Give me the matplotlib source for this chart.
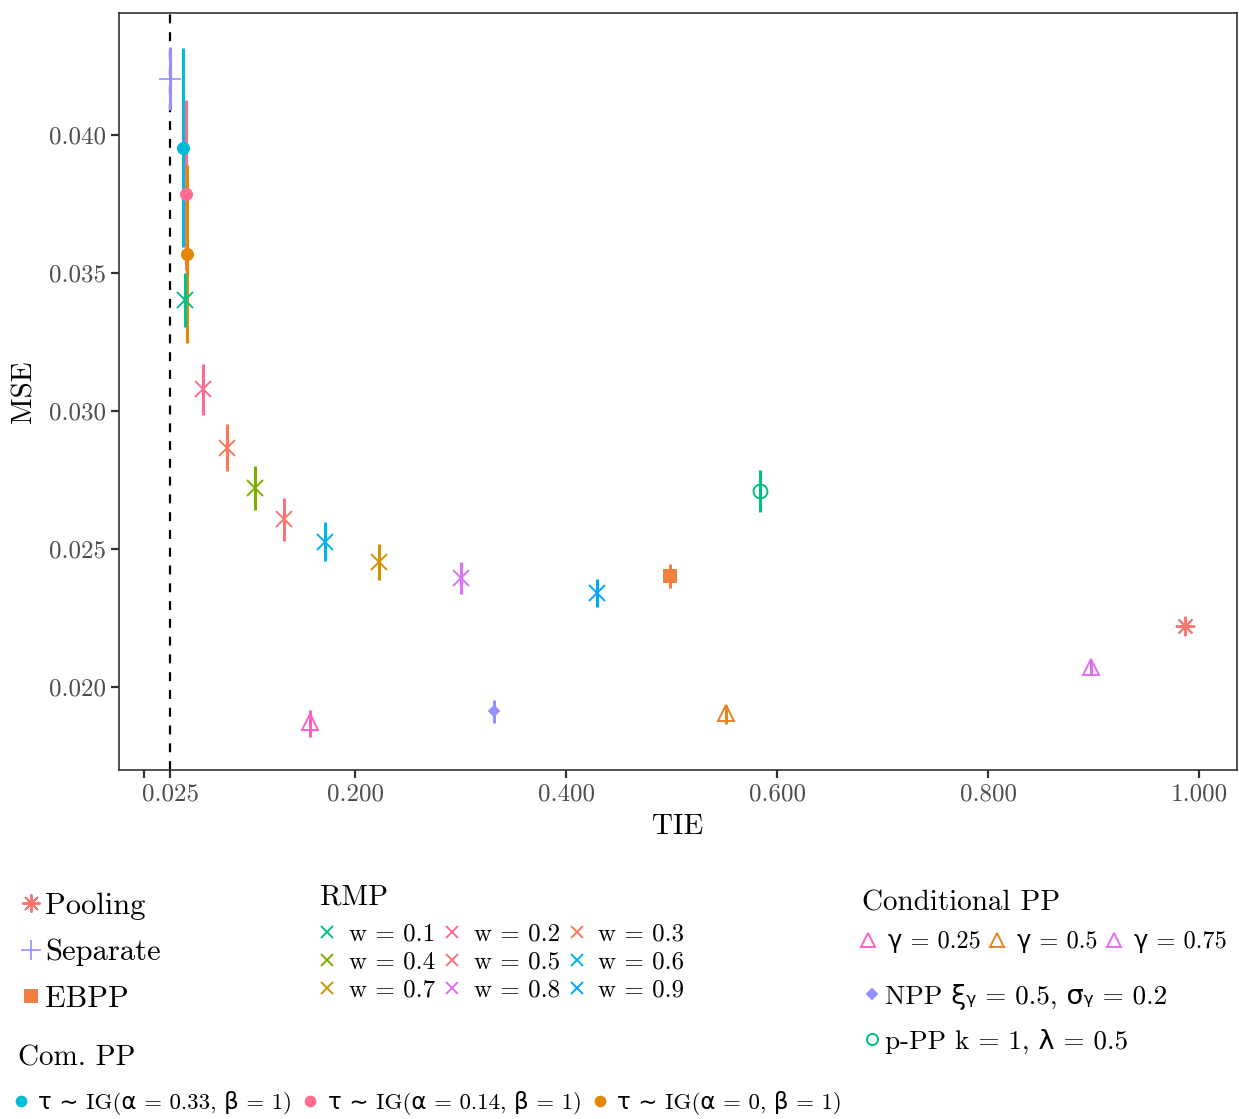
import numpy as np
import matplotlib
matplotlib.use("Agg")
import matplotlib.pyplot as plt
from matplotlib.lines import Line2D

plt.rcParams['font.family'] = ['cmr10', 'DejaVu Sans']
plt.rcParams['axes.formatter.use_mathtext'] = True

# ---- data ----
# single methods: TIE, MSE, lower, upper
pool_tie, pool_mse, pool_lo, pool_hi = 0.987, 0.02221, 0.02213, 0.02229
sep_tie, sep_mse, sep_lo, sep_hi = 0.0246, 0.04203, 0.04091, 0.04319
ebpp_tie, ebpp_mse, ebpp_lo, ebpp_hi = 0.4986, 0.02402, 0.02359, 0.02446
npp_tie, npp_mse, npp_lo, npp_hi = 0.3318, 0.01913, 0.01870, 0.01953
ppp_tie, ppp_mse, ppp_lo, ppp_hi = 0.5839, 0.02710, 0.02634, 0.02786

# RMP, w = 0.1 ... 0.9
rmp_labels = ["w = 0.1", "w = 0.2", "w = 0.3", "w = 0.4", "w = 0.5",
              "w = 0.6", "w = 0.7", "w = 0.8", "w = 0.9"]
rmp_tie = [0.0389, 0.0559, 0.0787, 0.1050, 0.1327, 0.1716, 0.2227, 0.3005, 0.4294]
rmp_mse = [0.03402, 0.03080, 0.02866, 0.02721, 0.02609, 0.02525, 0.02453, 0.02395, 0.02341]
rmp_lo = [0.03304, 0.02986, 0.02783, 0.02641, 0.02529, 0.02457, 0.02388, 0.02337, 0.02290]
rmp_hi = [0.03500, 0.03170, 0.02953, 0.02801, 0.02685, 0.02598, 0.02518, 0.02453, 0.02391]
rmp_colors = ["#00C08B", "#FF6C91", "#FA7B5C", "#7CAE00", "#F8766D",
              "#00B4EF", "#D39200", "#DC71FA", "#00A9FF"]

# Conditional PP, gamma = 0.25, 0.5, 0.75
cpp_labels = ["γ = 0.25", "γ = 0.5", "γ = 0.75"]
cpp_tie = [0.1573, 0.5517, 0.8976]
cpp_mse = [0.01873, 0.01906, 0.02072]
cpp_lo = [0.01819, 0.01866, 0.02043]
cpp_hi = [0.01917, 0.01935, 0.02097]
cpp_colors = ["#FF61C3", "#E88526", "#E36EF6"]

# Commensurate PP
com_labels = ["τ ∼ IG(α = 0.33, β = 1)", "τ ∼ IG(α = 0.14, β = 1)", "τ ∼ IG(α = 0, β = 1)"]
com_tie = [0.0370, 0.0398, 0.0408]
com_mse = [0.03953, 0.03786, 0.03569]
com_lo = [0.03594, 0.03511, 0.03246]
com_hi = [0.04315, 0.04127, 0.03891]
com_colors = ["#00BCD8", "#FF6C91", "#E58700"]

x_ticks = [0.0, 0.025, 0.2, 0.4, 0.6, 0.8, 1.0]
x_ticklabels = ["", "0.025", "0.200", "0.400", "0.600", "0.800", "1.000"]
y_ticks = [0.020, 0.025, 0.030, 0.035, 0.040]
y_ticklabels = ["0.020", "0.025", "0.030", "0.035", "0.040"]

W, H = 1239, 1119
fig = plt.figure(figsize=(W / 100, H / 100), dpi=100)
ax = fig.add_axes([119 / W, 1 - 770 / H, 1118 / W, 757 / H])


def draw(x, y, lo, hi, color, marker, ms=11, mew=1.4, fill=True):
    ax.vlines(x, lo, hi, color=color, lw=2.2, zorder=2)
    ax.plot([x], [y], marker=marker, color=color, ms=ms, mew=mew, ls="none",
            mfc=color if fill else "none", zorder=3)


ax.axvline(0.025, color="black", ls=(0, (4, 4)), lw=1.6, zorder=1)

draw(sep_tie, sep_mse, sep_lo, sep_hi, "#9590FF", "+", ms=16, mew=1.2)
for i in range(3):
    draw(com_tie[i], com_mse[i], com_lo[i], com_hi[i], com_colors[i], "o", ms=8)
for i in range(9):
    draw(rmp_tie[i], rmp_mse[i], rmp_lo[i], rmp_hi[i], rmp_colors[i], "x", ms=12, mew=1.4)
draw(ebpp_tie, ebpp_mse, ebpp_lo, ebpp_hi, "#EE7F3F", "s", ms=8)
draw(ppp_tie, ppp_mse, ppp_lo, ppp_hi, "#00C07B", "o", ms=10, mew=1.4, fill=False)
draw(npp_tie, npp_mse, npp_lo, npp_hi, "#9590FF", "D", ms=5)
for i in range(3):
    draw(cpp_tie[i], cpp_mse[i], cpp_lo[i], cpp_hi[i], cpp_colors[i], "^", ms=12, mew=1.4, fill=False)
draw(pool_tie, pool_mse, pool_lo, pool_hi, "#F8766D", (8, 2, 0), ms=14, mew=1.4)

ax.set_xlim(-0.0237, 1.036)
ax.set_ylim(0.016993, 0.04442)
ax.set_xticks(x_ticks)
ax.set_xticklabels(x_ticklabels)
ax.set_yticks(y_ticks)
ax.set_yticklabels(y_ticklabels)
ax.tick_params(labelsize=18, labelcolor="#4D4D4D", color="#333333", length=6, width=1.6)
for s in ax.spines.values():
    s.set_color("#333333")
    s.set_linewidth(1.2)
ax.set_xlabel("TIE", fontsize=21, labelpad=6)
ax.set_ylabel("MSE", fontsize=21, labelpad=8)


def key(color, marker, ms=11, fill=True, mew=1.4):
    return Line2D([], [], ls="none", marker=marker, color=color, ms=ms, mew=mew,
                  mfc=color if fill else "none")


# left block
h1 = [key("#F8766D", (8, 2, 0), 13), key("#9590FF", "+", 14, mew=1.2), key("#EE7F3F", "s", 8)]
fig.legend(h1, ["Pooling", "Separate", "EBPP"], loc="upper left",
           bbox_to_anchor=(0.003, 0.216), frameon=False, fontsize=22,
           labelspacing=0.62, handlelength=0.8, handletextpad=0.05, borderpad=0)

# RMP, row major order in reference -> reorder for column filling
fig.text(320 / W, 1 - 897 / H, "RMP", fontsize=21, va="center", ha="left")
order = [0, 3, 6, 1, 4, 7, 2, 5, 8]
h2 = [key(rmp_colors[i], "x", 9) for i in order]
l2 = [rmp_labels[i] for i in order]
fig.legend(h2, l2, ncols=3, loc="center left",
           bbox_to_anchor=(0.246, 1 - 962 / H), frameon=False, fontsize=18,
           labelspacing=0.22, handlelength=0.8, handletextpad=0.45,
           columnspacing=0.3, borderpad=0)

# Conditional PP
fig.text(862 / W, 1 - 903 / H, "Conditional PP", fontsize=21, va="center", ha="left")
h3 = [key(c, "^", 10, fill=False) for c in cpp_colors]
fig.legend(h3, cpp_labels, ncols=3, loc="center left",
           bbox_to_anchor=(0.683, 1 - 942 / H), frameon=False,
           fontsize=17.5, handlelength=0.8, handletextpad=0.4, columnspacing=0.3,
           borderpad=0)

h4 = [key("#9590FF", "D", 5), key("#00C07B", "o", 8, fill=False)]
fig.legend(h4, ["NPP ξᵧ = 0.5, σᵧ = 0.2", "p-PP k = 1, λ = 0.5"], loc="upper left",
           bbox_to_anchor=(0.686, 0.133), frameon=False, fontsize=19.5,
           labelspacing=0.7, handlelength=0.6, handletextpad=0.2, borderpad=0)

# Commensurate PP
fig.text(18 / W, 1 - 1058 / H, "Com. PP", fontsize=21, va="center", ha="left")
h5 = [key(c, "o", 7) for c in com_colors]
fig.legend(h5, com_labels, ncols=3, loc="center left",
           bbox_to_anchor=(0.002, 1 - 1103 / H), frameon=False,
           fontsize=16.5, handlelength=0.6, handletextpad=0.45, columnspacing=0.5,
           borderpad=0)

fig.savefig("out.png", dpi=100)
